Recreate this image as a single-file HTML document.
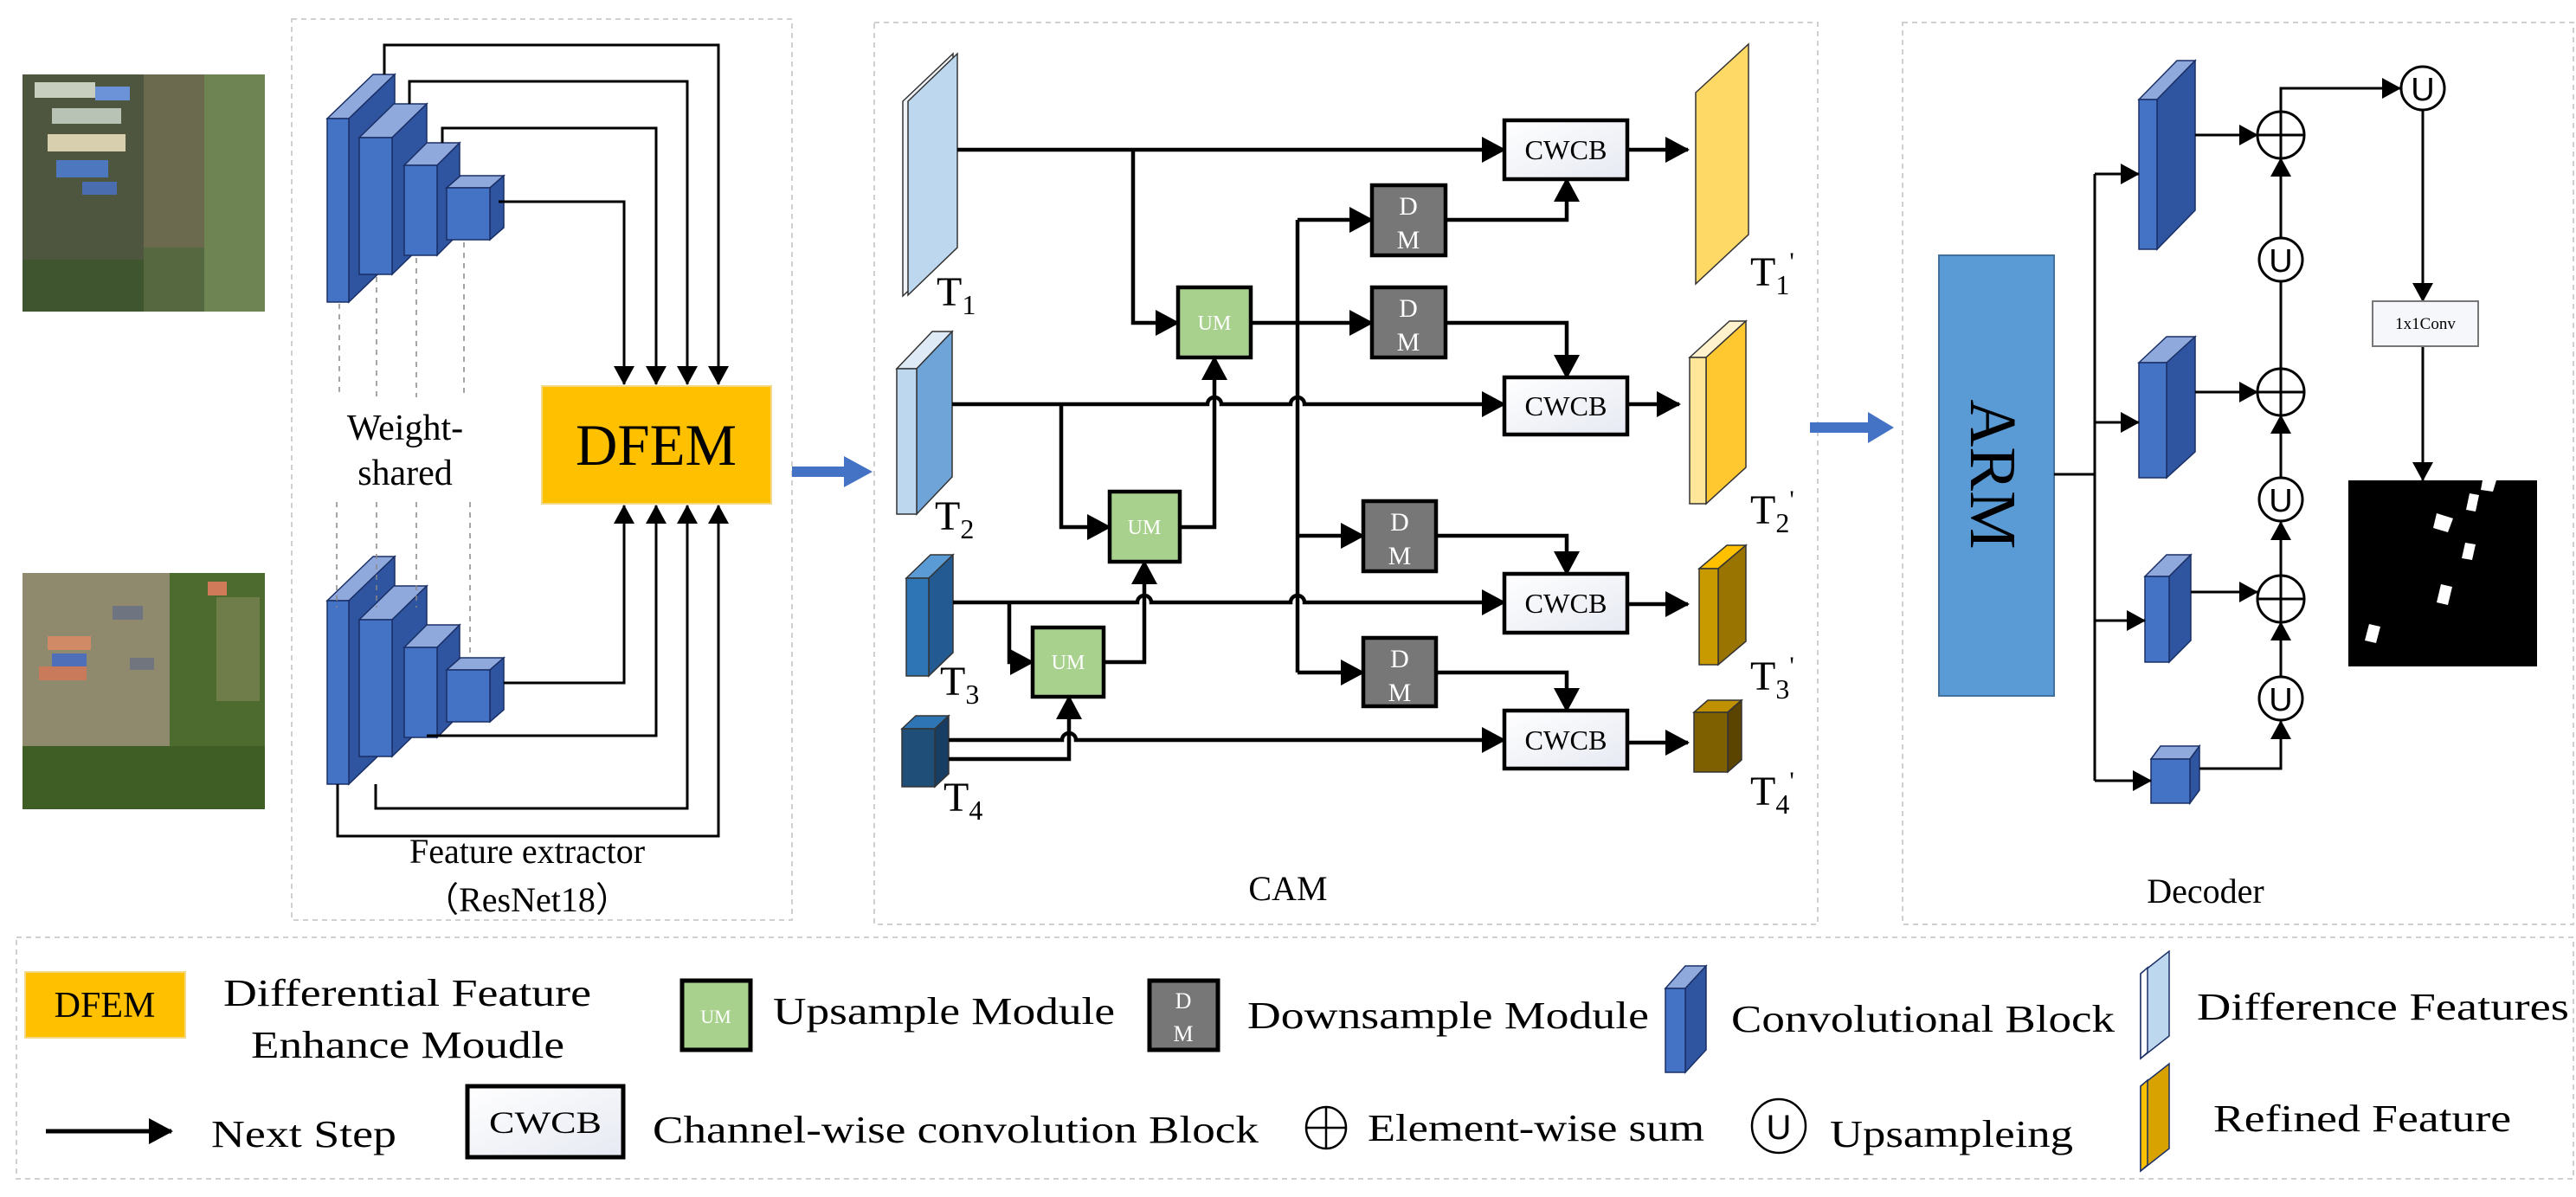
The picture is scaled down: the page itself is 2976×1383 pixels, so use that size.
<!DOCTYPE html>
<html><head><meta charset="utf-8"><style>
html,body{margin:0;padding:0;background:#fff;}
svg{display:block;font-family:"Liberation Serif",serif;}
</style></head><body>
<svg width="2976" height="1383" viewBox="0 0 2976 1383" xmlns="http://www.w3.org/2000/svg">
<defs>
<marker id="a" markerUnits="userSpaceOnUse" markerWidth="28" markerHeight="30" refX="26" refY="15" orient="auto"><path d="M0,0 L28,15 L0,30 Z" fill="#000"/></marker>
<marker id="s" markerUnits="userSpaceOnUse" markerWidth="22" markerHeight="24" refX="21" refY="12" orient="auto"><path d="M0,0 L22,12 L0,24 Z" fill="#000"/></marker>
<linearGradient id="wg" x1="0" y1="0" x2="1" y2="1"><stop offset="0" stop-color="#fff"/><stop offset="1" stop-color="#e6e9f2"/></linearGradient>
</defs>

<g fill="none" stroke="#d0d0d0" stroke-width="2" stroke-dasharray="6,5">
<rect x="337" y="22" width="578" height="1041"/>
<rect x="1010" y="26" width="1090" height="1042"/>
<rect x="2198" y="26" width="775" height="1042"/>
<rect x="19" y="1083" width="2954" height="279"/>
</g>

<g>
<rect x="26" y="86" width="280" height="274" fill="#56683f"/>
<rect x="26" y="86" width="140" height="274" fill="#4e5640"/>
<rect x="166" y="86" width="70" height="200" fill="#6b6a4e"/>
<rect x="236" y="86" width="70" height="274" fill="#6f8453"/>
<rect x="40" y="95" width="70" height="18" fill="#c8cfbf"/>
<rect x="60" y="125" width="80" height="18" fill="#b8c2b5"/>
<rect x="55" y="155" width="90" height="20" fill="#d8cfae"/>
<rect x="65" y="185" width="60" height="20" fill="#4d78c0"/>
<rect x="110" y="100" width="40" height="16" fill="#6c92d8"/>
<rect x="95" y="210" width="40" height="15" fill="#4a6db0"/>
<rect x="26" y="300" width="140" height="60" fill="#3f5530"/>
<rect x="26" y="662" width="280" height="273" fill="#5e6a3f"/>
<rect x="26" y="662" width="170" height="200" fill="#8f8a6e"/>
<rect x="196" y="662" width="110" height="273" fill="#4d6b2e"/>
<rect x="26" y="862" width="280" height="73" fill="#3e5e26"/>
<rect x="55" y="735" width="50" height="16" fill="#d08a66"/>
<rect x="60" y="755" width="40" height="16" fill="#4f6fb8"/>
<rect x="45" y="770" width="55" height="16" fill="#c97a5a"/>
<rect x="130" y="700" width="35" height="16" fill="#6e7480"/>
<rect x="240" y="672" width="22" height="16" fill="#d07a5a"/>
<rect x="150" y="760" width="28" height="14" fill="#70757e"/>
<rect x="250" y="690" width="50" height="120" fill="#6e7d49"/>
</g>

<g stroke="#1a2f66" stroke-width="1.5">
<g>
<polygon points="378,137 431,86 456,86 403,137" fill="#8fa9dd"/><polygon points="403,137 456,86 456,298 403,349" fill="#2f55a0"/><rect x="378" y="137" width="25" height="212" fill="#4472c4"/>
<polygon points="415,159 455,120 493,120 453,159" fill="#8fa9dd"/><polygon points="453,159 493,120 493,278 453,317" fill="#2f55a0"/><rect x="415" y="159" width="38" height="158" fill="#4472c4"/>
<polygon points="467,191 493,165 531,165 505,191" fill="#8fa9dd"/><polygon points="505,191 531,165 531,269 505,295" fill="#2f55a0"/><rect x="467" y="191" width="38" height="104" fill="#4472c4"/>
<polygon points="516,217 532,203 582,203 566,217" fill="#8fa9dd"/><polygon points="566,217 582,203 582,263 566,277" fill="#2f55a0"/><rect x="516" y="217" width="50" height="60" fill="#4472c4"/>
</g>
<g transform="translate(0,557)">
<polygon points="378,137 431,86 456,86 403,137" fill="#8fa9dd"/><polygon points="403,137 456,86 456,298 403,349" fill="#2f55a0"/><rect x="378" y="137" width="25" height="212" fill="#4472c4"/>
<polygon points="415,159 455,120 493,120 453,159" fill="#8fa9dd"/><polygon points="453,159 493,120 493,278 453,317" fill="#2f55a0"/><rect x="415" y="159" width="38" height="158" fill="#4472c4"/>
<polygon points="467,191 493,165 531,165 505,191" fill="#8fa9dd"/><polygon points="505,191 531,165 531,269 505,295" fill="#2f55a0"/><rect x="467" y="191" width="38" height="104" fill="#4472c4"/>
<polygon points="516,217 532,203 582,203 566,217" fill="#8fa9dd"/><polygon points="566,217 582,203 582,263 566,277" fill="#2f55a0"/><rect x="516" y="217" width="50" height="60" fill="#4472c4"/>
</g>
</g>

<g stroke="#888" stroke-width="1.5" stroke-dasharray="6,6">
<line x1="392" y1="351" x2="392" y2="459"/><line x1="435" y1="320" x2="435" y2="459"/><line x1="481" y1="298" x2="481" y2="459"/><line x1="536" y1="280" x2="536" y2="459"/>
<line x1="389" y1="580" x2="389" y2="702"/><line x1="435" y1="580" x2="435" y2="702"/><line x1="481" y1="580" x2="481" y2="702"/><line x1="543" y1="580" x2="543" y2="760"/>
</g>

<g fill="none" stroke="#000" stroke-width="3" marker-end="url(#s)">
<path d="M444,86 V52 H830 V444"/>
<path d="M473,120 V94 H794 V444"/>
<path d="M511,165 V148 H758 V444"/>
<path d="M576,233 H721 V444"/>
<path d="M582,789 H721 V584"/>
<path d="M493,850 H758 V584"/>
<path d="M434,906 V934 H794 V584"/>
<path d="M390,906 V966 H830 V584"/>
</g>

<rect x="626" y="446" width="265" height="136" fill="#ffc000" stroke="#f2d98a" stroke-width="2"/>
<text x="758" y="537" font-size="68" text-anchor="middle" textLength="186" lengthAdjust="spacingAndGlyphs">DFEM</text>
<text x="468" y="508" font-size="42" text-anchor="middle">Weight-</text>
<text x="468" y="560" font-size="42" text-anchor="middle">shared</text>
<text x="609" y="997" font-size="40" text-anchor="middle">Feature extractor</text>
<text x="609" y="1053" font-size="40" text-anchor="middle">（ResNet18）</text>

<path d="M915,539 H975 V527 L1008,545 L975,563 V551 H915 Z" fill="#4472c4"/>
<path d="M2091,488 H2158 V476 L2188,494 L2158,512 V500 H2091 Z" fill="#4472c4"/>

<g stroke="#333" stroke-width="1.5">
<polygon points="1043,117 1101,62 1101,287 1043,342" fill="#f0f4f8"/>
<polygon points="1049,117 1106,62 1106,286 1049,341" fill="#bdd7ee"/>
<polygon points="1036,426 1077,383 1100,383 1059,426" fill="#deebf7"/><polygon points="1059,426 1100,383 1100,551 1059,594" fill="#6fa4d9"/><rect x="1036" y="426" width="23" height="168" fill="#bdd7ee"/>
<polygon points="1047,668 1075,641 1101,641 1073,668" fill="#5b9bd5"/><polygon points="1073,668 1101,641 1101,754 1073,781" fill="#245a92"/><rect x="1047" y="668" width="26" height="113" fill="#2e75b6"/>
<polygon points="1042,842 1058,827 1096,827 1080,842" fill="#2e75b6"/><polygon points="1080,842 1096,827 1096,894 1080,909" fill="#173d63"/><rect x="1042" y="842" width="38" height="67" fill="#1f4e79"/>
<polygon points="1959,107 2020,51 2020,271 1959,328" fill="#ffd966"/>
<polygon points="1952,413 1998,371 2017,371 1971,413" fill="#fff2cc"/><polygon points="1971,413 2017,371 2017,540 1971,582" fill="#ffc830"/><rect x="1952" y="413" width="19" height="169" fill="#ffe699"/>
<polygon points="1963,657 1995,630 2017,630 1985,657" fill="#ffc000"/><polygon points="1985,657 2017,630 2017,741 1985,768" fill="#9a7400"/><rect x="1963" y="657" width="22" height="111" fill="#c99a00"/>
<polygon points="1957,823 1973,809 2012,809 1996,823" fill="#bf9000"/><polygon points="1996,823 2012,809 2012,878 1996,892" fill="#5a4400"/><rect x="1957" y="823" width="39" height="69" fill="#7f6000"/>
</g>
<g font-size="48">
<text x="1082" y="353">T<tspan font-size="32" dy="10">1</tspan></text>
<text x="1080" y="612">T<tspan font-size="32" dy="10">2</tspan></text>
<text x="1086" y="803">T<tspan font-size="32" dy="10">3</tspan></text>
<text x="1090" y="937">T<tspan font-size="32" dy="10">4</tspan></text>
<text x="2022" y="330">T<tspan font-size="32" dy="10">1</tspan><tspan font-size="30" dy="-28">'</tspan></text>
<text x="2022" y="605">T<tspan font-size="32" dy="10">2</tspan><tspan font-size="30" dy="-28">'</tspan></text>
<text x="2022" y="797">T<tspan font-size="32" dy="10">3</tspan><tspan font-size="30" dy="-28">'</tspan></text>
<text x="2022" y="930">T<tspan font-size="32" dy="10">4</tspan><tspan font-size="30" dy="-28">'</tspan></text>
</g>

<g fill="none" stroke="#000" stroke-width="4.5">
<path d="M1106,173 H1738" marker-end="url(#a)"/>
<path d="M1309,173 V373 H1361" marker-end="url(#a)"/>
<path d="M1100,467 H1395 A8,8 0 0 1 1411,467 H1491 A8,8 0 0 1 1507,467 H1738" marker-end="url(#a)"/>
<path d="M1226,467 V609 H1282" marker-end="url(#a)"/>
<path d="M1101,696 H1314 A8,8 0 0 1 1330,696 H1491 A8,8 0 0 1 1507,696 H1738" marker-end="url(#a)"/>
<path d="M1166,696 V765 H1193" marker-end="url(#a)"/>
<path d="M1096,855 H1227 A8,8 0 0 1 1243,855 H1738" marker-end="url(#a)"/>
<path d="M1096,877 H1235 V805" marker-end="url(#a)"/>
<path d="M1275,765 H1322 V649" marker-end="url(#a)"/>
<path d="M1363,609 H1403 V413" marker-end="url(#a)"/>
<path d="M1499,254 V777"/>
<path d="M1499,254 H1585" marker-end="url(#a)"/>
<path d="M1445,373 H1585" marker-end="url(#a)"/>
<path d="M1499,619 H1575" marker-end="url(#a)"/>
<path d="M1499,777 H1575" marker-end="url(#a)"/>
<path d="M1670,254 H1810 V207" marker-end="url(#a)"/>
<path d="M1670,373 H1810 V436" marker-end="url(#a)"/>
<path d="M1659,619 H1810 V663" marker-end="url(#a)"/>
<path d="M1659,777 H1810 V821" marker-end="url(#a)"/>
<path d="M1880,173 H1950" marker-end="url(#a)"/>
<path d="M1880,467 H1940" marker-end="url(#a)"/>
<path d="M1880,698 H1950" marker-end="url(#a)"/>
<path d="M1880,858 H1950" marker-end="url(#a)"/>
</g>

<g stroke="#000" stroke-width="4.5">
<rect x="1361" y="332" width="84" height="81" fill="#a9d18e"/>
<rect x="1282" y="568" width="81" height="81" fill="#a9d18e"/>
<rect x="1193" y="725" width="82" height="80" fill="#a9d18e"/>
<rect x="1585" y="214" width="85" height="81" fill="#777"/>
<rect x="1585" y="332" width="85" height="81" fill="#777"/>
<rect x="1575" y="579" width="84" height="81" fill="#777"/>
<rect x="1575" y="737" width="84" height="79" fill="#777"/>
<rect x="1738" y="139" width="142" height="68" fill="url(#wg)"/>
<rect x="1738" y="436" width="142" height="66" fill="url(#wg)"/>
<rect x="1738" y="663" width="142" height="68" fill="url(#wg)"/>
<rect x="1738" y="821" width="142" height="67" fill="url(#wg)"/>
</g>
<g fill="#fff" font-size="24" text-anchor="middle">
<text x="1403" y="381">UM</text><text x="1322" y="617">UM</text><text x="1234" y="773">UM</text>
</g>
<g fill="#fff" font-size="30" text-anchor="middle">
<text x="1627" y="248">D</text><text x="1627" y="287">M</text>
<text x="1627" y="366">D</text><text x="1627" y="405">M</text>
<text x="1617" y="613">D</text><text x="1617" y="652">M</text>
<text x="1617" y="771">D</text><text x="1617" y="810">M</text>
</g>
<g font-size="32" text-anchor="middle">
<text x="1809" y="184" textLength="95" lengthAdjust="spacingAndGlyphs">CWCB</text>
<text x="1809" y="480" textLength="95" lengthAdjust="spacingAndGlyphs">CWCB</text>
<text x="1809" y="708" textLength="95" lengthAdjust="spacingAndGlyphs">CWCB</text>
<text x="1809" y="866" textLength="95" lengthAdjust="spacingAndGlyphs">CWCB</text>
</g>
<text x="1488" y="1040" font-size="40" text-anchor="middle">CAM</text>

<rect x="2240" y="295" width="133" height="509" fill="#5b9bd5" stroke="#41719c" stroke-width="2"/>
<text x="2303" y="548" font-size="76" text-anchor="middle" transform="rotate(90 2303 548)" dy="26">ARM</text>
<g stroke="#1a2f66" stroke-width="1.5">
<polygon points="2471,115 2515,70 2536,70 2492,115" fill="#8fa9dd"/><polygon points="2492,115 2536,70 2536,243 2492,288" fill="#2f55a0"/><rect x="2471" y="115" width="21" height="173" fill="#4472c4"/>
<polygon points="2471,419 2503,389 2536,389 2504,419" fill="#8fa9dd"/><polygon points="2503,419 2536,389 2536,522 2503,552" fill="#2f55a0"/><rect x="2471" y="419" width="32" height="133" fill="#4472c4"/>
<polygon points="2478,666 2503,641 2531,641 2506,666" fill="#8fa9dd"/><polygon points="2506,666 2531,641 2531,740 2506,765" fill="#2f55a0"/><rect x="2478" y="666" width="28" height="99" fill="#4472c4"/>
<polygon points="2485,877 2496,862 2541,862 2530,877" fill="#8fa9dd"/><polygon points="2530,877 2541,862 2541,913 2530,928" fill="#2f55a0"/><rect x="2485" y="877" width="45" height="51" fill="#4472c4"/>
</g>
<g fill="none" stroke="#000" stroke-width="3">
<path d="M2373,548 H2420"/>
<path d="M2420,201 V902"/>
<path d="M2420,201 H2471" marker-end="url(#s)"/>
<path d="M2420,488 H2471" marker-end="url(#s)"/>
<path d="M2420,717 H2478" marker-end="url(#s)"/>
<path d="M2420,902 H2485" marker-end="url(#s)"/>
<path d="M2536,156 H2608" marker-end="url(#s)"/>
<path d="M2536,453 H2608" marker-end="url(#s)"/>
<path d="M2531,684 H2608" marker-end="url(#s)"/>
<path d="M2541,888 H2635 V833" marker-end="url(#s)"/>
<path d="M2635,782 V719" marker-end="url(#s)"/>
<path d="M2635,665 V603" marker-end="url(#s)"/>
<path d="M2635,552 V480" marker-end="url(#s)"/>
<path d="M2635,275 V183" marker-end="url(#s)"/>
<path d="M2635,426 V325"/>
<path d="M2635,129 V102 H2773" marker-end="url(#s)"/>
<path d="M2799,128 V348" marker-end="url(#s)"/>
<path d="M2799,400 V555" marker-end="url(#s)"/>
</g>
<g fill="#fff" stroke="#000" stroke-width="3">
<circle cx="2635" cy="156" r="27"/><circle cx="2635" cy="453" r="27"/><circle cx="2635" cy="692" r="27"/>
<circle cx="2635" cy="300" r="25"/><circle cx="2635" cy="577" r="25"/><circle cx="2635" cy="807" r="25"/>
<circle cx="2799" cy="102" r="25"/>
</g>
<g stroke="#000" stroke-width="3">
<path d="M2608,156 H2662 M2635,129 V183 M2608,453 H2662 M2635,426 V480 M2608,692 H2662 M2635,665 V719"/>
</g>
<g font-size="38" text-anchor="middle" font-family="Liberation Sans,sans-serif">
<text x="2635" y="314">U</text><text x="2635" y="591">U</text><text x="2635" y="821">U</text><text x="2799" y="116">U</text>
</g>
<rect x="2741" y="348" width="122" height="52" fill="#f6f7fa" stroke="#777" stroke-width="2"/>
<text x="2802" y="380" font-size="19" text-anchor="middle">1x1Conv</text>
<rect x="2713" y="555" width="218" height="215" fill="#000"/>
<g fill="#fff">
<polygon points="2868,555 2884,555 2880,568 2866,566"/>
<polygon points="2853,570 2864,572 2860,591 2849,589"/>
<polygon points="2815,593 2834,599 2828,615 2811,610"/>
<polygon points="2848,627 2860,629 2856,647 2844,645"/>
<polygon points="2820,675 2833,678 2828,699 2815,696"/>
<polygon points="2737,721 2750,724 2745,743 2732,740"/>
</g>
<text x="2548" y="1043" font-size="40" text-anchor="middle">Decoder</text>

<rect x="29" y="1123" width="185" height="76" fill="#ffc000" stroke="#f2d98a" stroke-width="2"/>
<text x="121" y="1175" font-size="42" text-anchor="middle">DFEM</text>
<g font-size="44">
<text x="258" y="1162" textLength="425" lengthAdjust="spacingAndGlyphs">Differential Feature</text>
<text x="290" y="1222" textLength="362" lengthAdjust="spacingAndGlyphs">Enhance Moudle</text>
<text x="893" y="1183" textLength="395" lengthAdjust="spacingAndGlyphs">Upsample Module</text>
<text x="1441" y="1188" textLength="464" lengthAdjust="spacingAndGlyphs">Downsample Module</text>
<text x="2000" y="1192" textLength="443" lengthAdjust="spacingAndGlyphs">Convolutional Block</text>
<text x="2538" y="1178" textLength="430" lengthAdjust="spacingAndGlyphs">Difference Features</text>
<text x="244" y="1325" textLength="214" lengthAdjust="spacingAndGlyphs">Next Step</text>
<text x="754" y="1320" textLength="700" lengthAdjust="spacingAndGlyphs">Channel-wise convolution Block</text>
<text x="1580" y="1318" textLength="389" lengthAdjust="spacingAndGlyphs">Element-wise sum</text>
<text x="2114" y="1325" textLength="281" lengthAdjust="spacingAndGlyphs">Upsampleing</text>
<text x="2557" y="1307" textLength="344" lengthAdjust="spacingAndGlyphs">Refined Feature</text>
</g>
<rect x="788" y="1133" width="79" height="80" fill="#a9d18e" stroke="#000" stroke-width="5"/>
<text x="827" y="1182" font-size="22" fill="#fff" text-anchor="middle">UM</text>
<rect x="1328" y="1133" width="79" height="80" fill="#777" stroke="#000" stroke-width="5"/>
<text x="1367" y="1165" font-size="26" fill="#fff" text-anchor="middle">D</text>
<text x="1367" y="1203" font-size="26" fill="#fff" text-anchor="middle">M</text>
<g stroke="#1a2f66" stroke-width="1.5">
<polygon points="1924,1142 1947,1116 1971,1116 1947,1142" fill="#8fa9dd"/>
<polygon points="1947,1142 1971,1116 1971,1213 1947,1239" fill="#2f55a0"/>
<rect x="1924" y="1142" width="23" height="97" fill="#4472c4"/>
<polygon points="2473,1125 2506,1099 2506,1197 2473,1223" fill="#bdd7ee"/>
<polygon points="2473,1125 2481,1118 2481,1216 2473,1223" fill="#fff"/>
<polygon points="2473,1255 2506,1229 2506,1327 2473,1353" fill="#d8a300"/>
<polygon points="2473,1255 2481,1248 2481,1346 2473,1353" fill="#ffc000"/>
</g>
<path d="M53,1307 H198" stroke="#000" stroke-width="5" fill="none" marker-end="url(#a)"/>
<rect x="540" y="1255" width="180" height="82" fill="url(#wg)" stroke="#000" stroke-width="5"/>
<text x="630" y="1309" font-size="36" text-anchor="middle" textLength="130" lengthAdjust="spacingAndGlyphs">CWCB</text>
<g fill="none" stroke="#000" stroke-width="2.5">
<ellipse cx="1532" cy="1303" rx="23" ry="24"/><path d="M1509,1303 H1555 M1532,1279 V1327"/>
<circle cx="2055" cy="1301" r="31"/>
</g>
<text x="2055" y="1316" font-size="40" text-anchor="middle" font-family="Liberation Sans,sans-serif">U</text>
</svg>
</body></html>
